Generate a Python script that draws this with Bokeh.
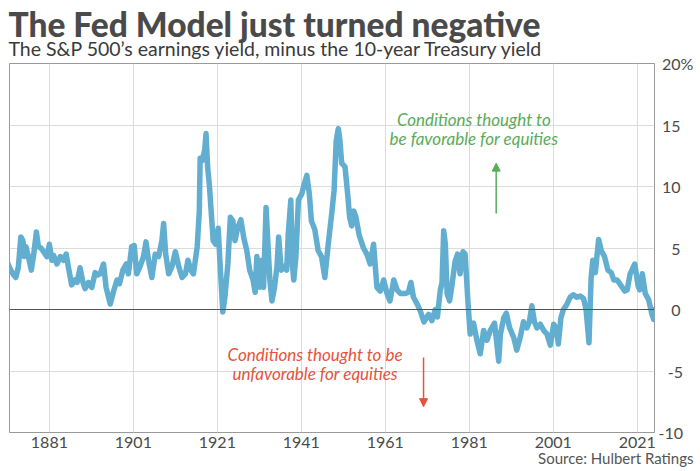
from bokeh.plotting import figure
from bokeh.models import FixedTicker, Range1d, Span, Arrow, NormalHead, Title, ColumnDataSource
from bokeh.core.properties import value
from bokeh.embed import file_html
from bokeh.resources import INLINE

# ---- data ----
years = [
    1871.0, 1871.8, 1872.5, 1873.0, 1873.6, 1874.2, 1874.7, 1875.0, 1875.4, 1876.0,
    1876.7, 1877.2, 1877.9, 1878.4, 1879.0, 1879.6, 1880.4, 1881.0, 1881.6, 1882.0,
    1882.8, 1883.6, 1884.4, 1885.0, 1885.5, 1886.3, 1887.1, 1887.6, 1888.3, 1889.0,
    1889.5, 1890.3, 1891.1, 1891.9, 1892.5, 1893.1, 1893.9, 1894.5, 1895.5, 1896.3,
    1897.1, 1897.7, 1898.5, 1899.3, 1899.8, 1900.6, 1901.2, 1901.8, 1902.6, 1903.4,
    1904.0, 1904.6, 1905.4, 1906.2, 1907.0, 1907.8, 1908.2, 1908.7, 1909.4, 1910.2,
    1911.0, 1911.8, 1912.6, 1913.4, 1914.0, 1914.7, 1915.3, 1916.2, 1916.7, 1916.9,
    1917.4, 1918.0, 1918.3, 1918.7, 1919.1, 1919.6, 1920.0, 1920.6, 1921.2, 1921.6,
    1922.3, 1922.8, 1923.5, 1924.1, 1924.7, 1925.2, 1925.8, 1926.6, 1927.3, 1928.0,
    1928.7, 1929.5, 1930.0, 1930.4, 1931.1, 1931.6, 1932.0, 1932.6, 1933.0, 1933.5,
    1934.0, 1934.6, 1935.2, 1935.6, 1936.2, 1936.8, 1937.5, 1937.9, 1938.5, 1938.9,
    1939.2, 1939.7, 1940.3, 1941.1, 1941.7, 1942.3, 1942.9, 1943.4, 1944.2, 1945.0,
    1945.8, 1946.6, 1947.4, 1948.3, 1948.8, 1949.3, 1949.8, 1950.2, 1950.6, 1951.4,
    1952.0, 1952.5, 1953.0, 1953.5, 1954.0, 1954.8, 1955.8, 1956.6, 1957.4, 1958.2,
    1959.0, 1959.8, 1960.6, 1961.4, 1962.1, 1963.0, 1963.8, 1964.6, 1965.8, 1966.5,
    1967.1, 1967.7, 1968.5, 1969.3, 1970.2, 1971.3, 1972.1, 1972.9, 1973.4, 1974.1,
    1974.5, 1974.9, 1975.3, 1975.7, 1976.3, 1976.8, 1977.6, 1978.2, 1978.8, 1979.5,
    1980.0, 1980.6, 1981.2, 1982.0, 1982.8, 1983.6, 1984.4, 1985.2, 1986.0, 1987.0,
    1987.4, 1988.0, 1988.4, 1989.2, 1989.8, 1990.6, 1991.6, 1992.3, 1993.1, 1993.9,
    1994.7, 1995.3, 1995.9, 1996.5, 1997.1, 1997.9, 1998.7, 1999.5, 2000.3, 2001.1,
    2001.7, 2002.2, 2002.8, 2003.4, 2004.2, 2005.0, 2005.8, 2006.6, 2007.4, 2008.2,
    2008.8, 2009.5, 2010.0, 2010.4, 2011.0, 2011.8, 2012.4, 2013.2, 2014.0, 2014.8,
    2015.4, 2016.2, 2017.0, 2018.0, 2018.6, 2019.3, 2020.4, 2021.2, 2021.6, 2022.2,
    2022.9, 2023.7, 2024.5, 2024.9, 2025.1,
]
spread = [
    3.8, 3.2, 2.8, 2.6, 3.4, 5.9, 5.6, 4.3, 5.1, 4.3,
    3.2, 4.3, 6.3, 5.1, 5.0, 4.7, 4.3, 5.3, 4.0, 4.4,
    3.7, 4.3, 4.0, 4.5, 3.5, 2.0, 2.4, 2.2, 3.4, 2.2,
    1.7, 2.2, 1.8, 3.0, 2.8, 2.9, 3.7, 1.8, 0.45, 1.5,
    2.4, 2.1, 3.2, 3.7, 2.9, 5.1, 5.2, 2.9, 3.5, 4.3,
    5.5, 4.0, 2.6, 4.5, 4.3, 5.6, 7.0, 4.5, 2.9, 3.5,
    4.7, 3.5, 2.6, 2.9, 4.0, 3.2, 2.9, 5.1, 8.0, 12.3,
    12.1, 13.0, 14.3, 11.5, 10.1, 7.6, 5.6, 5.3, 6.6, 4.0,
    -0.2, 1.0, 3.7, 7.5, 7.2, 5.6, 6.6, 7.3, 5.8, 4.8,
    3.2, 2.4, 1.4, 4.3, 1.8, 4.0, 1.8, 8.3, 5.6, 2.4,
    0.7, 1.8, 3.5, 5.9, 3.2, 3.5, 3.2, 6.2, 8.9, 3.5,
    2.4, 4.3, 8.9, 9.4, 10.2, 10.9, 9.4, 7.2, 6.5, 4.8,
    4.3, 2.6, 5.3, 8.0, 9.7, 13.7, 14.7, 13.7, 11.9, 11.6,
    9.5, 7.5, 6.8, 8.0, 7.5, 6.0, 5.0, 4.5, 3.7, 5.3,
    1.8, 1.5, 2.4, 1.3, 0.7, 2.4, 1.6, 1.3, 1.3, 1.4,
    2.2, 1.0, 0.5, -0.1, -1.0, -0.4, -0.9, 0.0, -0.6, 1.6,
    2.2, 6.4, 5.3, 1.3, 0.7, 1.8, 3.9, 4.5, 2.9, 4.7,
    4.5, 1.0, -2.0, -1.1, -2.5, -3.6, -1.7, -2.5, -1.7, -1.1,
    -2.3, -4.2, -2.0, -0.7, -0.3, -1.5, -2.3, -3.3, -2.3, -1.0,
    -1.5, -1.0, 0.3, -1.0, -1.5, -1.2, -1.7, -2.0, -2.9, -1.2,
    -1.5, -2.8, -0.7, 0.0, 0.4, 1.0, 1.2, 1.0, 1.1, 0.9,
    0.0, -2.7, 2.5, 4.0, 3.0, 5.7, 4.8, 4.3, 3.2, 3.0,
    2.4, 2.4, 2.0, 1.5, 1.6, 2.9, 3.7, 1.9, 1.6, 2.9,
    1.3, 0.8, -0.4, -0.8, 0.2,
]
x_tick_years = [1881, 1901, 1921, 1941, 1961, 1981, 2001, 2021]
y_tick_values = [-10, -5, 0, 5, 10, 15, 20]
y_tick_labels = ["-10", "\u2007-5", "\u2007\u20080", "\u2007\u20085", "\u200810", "\u200815", "\u200820%"]

title_text = "The Fed Model just turned negative"
subtitle_text = "The S&P 500\u2019s earnings yield, minus the 10-year Treasury yield"
source_text = "Source: Hulbert Ratings"
good_lines = ["Conditions thought to", "be favorable for equities"]
bad_lines = ["Conditions thought to be", "unfavorable for equities"]

# annotation placement (data units)
good_text_x = [1982.1, 1982.1]
good_text_y = [15.45, 13.9]
good_arrow = (1987.4, 7.8, 11.9)
bad_text_x = [1944.3, 1944.3]
bad_text_y = [-3.67, -5.2]
bad_arrow = (1970.1, -3.9, -7.9)

LINE_COLOR = "#62aed1"
GREEN = "#5aab5a"
RED = "#e5533d"
FONT = "Lato"

p = figure(
    width=700, height=471, title=None,
    x_range=Range1d(1871.5, 2025.1), y_range=Range1d(-10, 20),
    y_axis_location="right",
    output_backend="svg", toolbar_location=None,
    min_border_left=9, min_border_right=46, min_border_top=63, min_border_bottom=39,
)
p.background_fill_color = "white"
p.border_fill_color = "white"
p.outline_line_color = "#9a9a9a"
p.outline_line_width = 1

# axes
xa = p.xaxis[0]
xa.ticker = FixedTicker(ticks=x_tick_years)
xa.axis_line_color = None
xa.major_tick_line_color = None
xa.minor_tick_line_color = None
xa.major_tick_out = 0
xa.major_tick_in = 0
xa.major_label_standoff = 4
xa.major_label_text_font = FONT
xa.major_label_text_font_size = "16px"
xa.major_label_text_color = "#4a4a4a"

ya = p.yaxis[0]
ya.ticker = FixedTicker(ticks=y_tick_values)
ya.axis_line_color = None
ya.major_tick_line_color = None
ya.minor_tick_line_color = None
ya.major_tick_out = 0
ya.major_tick_in = 0
ya.major_label_standoff = 4
ya.major_label_text_font = FONT
ya.major_label_text_font_size = "16px"
ya.major_label_text_color = "#4a4a4a"
ya.major_label_overrides = dict(zip(y_tick_values, y_tick_labels))

p.xgrid.grid_line_color = "#dcdcdc"
p.ygrid.grid_line_color = "#dcdcdc"
p.xgrid.grid_line_width = 1
p.ygrid.grid_line_width = 1

p.add_layout(Span(location=0, dimension="width", line_color="#555555", line_width=1))

src = ColumnDataSource(dict(x=years, y=spread))
p.line("x", "y", source=src, line_width=5.5, line_color=LINE_COLOR, line_join="round")

# annotations
p.text(x=good_text_x, y=good_text_y, text=good_lines, text_font=value(FONT),
       text_font_style="italic", text_font_size="17px", text_color=GREEN,
       text_align="center", text_baseline="middle")
p.text(x=bad_text_x, y=bad_text_y, text=bad_lines, text_font=value(FONT),
       text_font_style="italic", text_font_size="17px", text_color=RED,
       text_align="center", text_baseline="middle")

p.add_layout(Arrow(end=NormalHead(size=8, fill_color=GREEN, line_color=GREEN),
                   x_start=good_arrow[0], y_start=good_arrow[1],
                   x_end=good_arrow[0], y_end=good_arrow[2],
                   line_color=GREEN, line_width=1.5))
p.add_layout(Arrow(end=NormalHead(size=8, fill_color=RED, line_color=RED),
                   x_start=bad_arrow[0], y_start=bad_arrow[1],
                   x_end=bad_arrow[0], y_end=bad_arrow[2],
                   line_color=RED, line_width=1.5))

# titles (first added sits nearest the plot)
p.add_layout(Title(text=subtitle_text, text_font=FONT, text_font_style="normal",
                   text_font_size="19.5px", text_color="#3a3a3a",
                   align="left", offset=-1, standoff=7.7), "above")
p.add_layout(Title(text=title_text, text_font="Lato Black", text_font_style="bold",
                   text_font_size="33.5px", text_color="#4a4a4a",
                   align="left", offset=-1, standoff=-26.5), "above")
p.add_layout(Title(text=source_text, text_font=FONT, text_font_style="normal",
                   text_font_size="15px", text_color="#555555",
                   align="right", vertical_align="top", offset=-39, standoff=-4), "below")

open("out.html", "w").write(file_html(p, INLINE))
